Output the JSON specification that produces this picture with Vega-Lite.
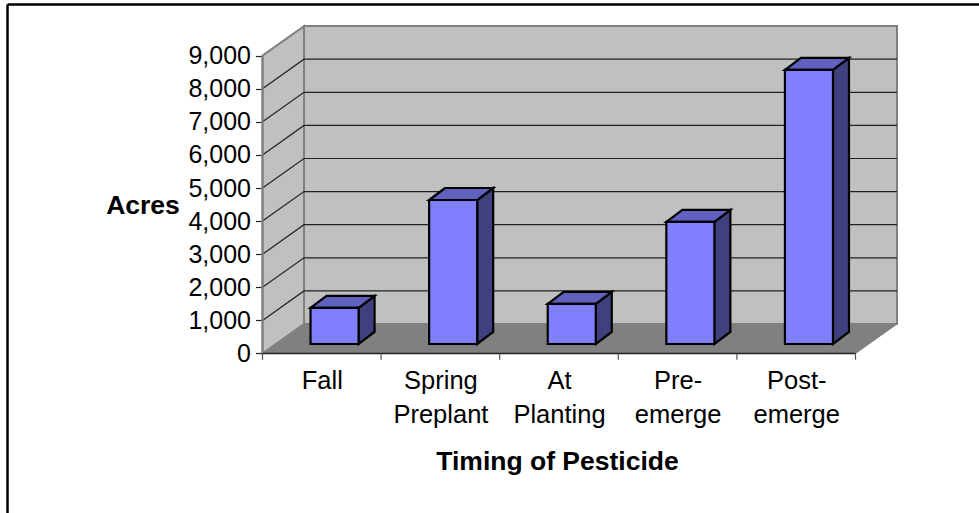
{
"$schema":"https://vega.github.io/schema/vega-lite/v6.json",
"width":979,"height":513,"padding":0,"autosize":{"type":"none"},
"background":"white",
"config":{"view":{"stroke":null},"font":"Liberation Sans"},
"resolve":{"axis":{"x":"independent","y":"independent"}},
"datasets":{
"bars":[{"timing":"Fall","slot":0,"acres":1090},{"timing":"Spring Preplant","slot":1,"acres":4350},{"timing":"At Planting","slot":2,"acres":1210},{"timing":"Pre-emerge","slot":3,"acres":3690},{"timing":"Post-emerge","slot":4,"acres":8280}],
"levels":[{"acres":1000},{"acres":2000},{"acres":3000},{"acres":4000},{"acres":5000},{"acres":6000},{"acres":7000},{"acres":8000}],
"slots":[{"slot":0},{"slot":1},{"slot":2},{"slot":3},{"slot":4},{"slot":5}],
"depth":[{"d":0},{"d":1}]
},
"layer":[
{"data":{"name":"depth"},"mark":{"type":"area","orient":"vertical","fill":"#C0C0C0","stroke":"#808080","strokeWidth":2},
 "transform":[{"calculate":"datum.d*0.35","as":"x"},{"calculate":"datum.d*891","as":"y0"},{"calculate":"9000+datum.d*891","as":"y1"}],
 "encoding":{"x":{"field":"x","type":"quantitative","scale":{"domain":[-2.2133,6.0413],"nice":false,"zero":false},"axis":null},
 "y":{"field":"y1","type":"quantitative","scale":{"domain":[-4819,10680],"nice":false,"zero":false},"axis":{"orient":"left","offset":-262.5,"values":[0,1000,2000,3000,4000,5000,6000,7000,8000,9000],"format":",d","domain":false,"grid":false,"tickColor":"#222","tickSize":7,"tickWidth":1.2,"labelFontSize":25,"labelColor":"#000","labelPadding":5,"labelOverlap":false,"labelBound":false,"title":"Acres","titleAngle":0,"titleFontSize":26.5,"titleFontWeight":"bold","titleColor":"#000","titleX":-120,"titleY":205,"titleAlign":"center","titleBaseline":"middle"}},
 "y2":{"field":"y0"}}},
{"data":{"values":[{"x0":0.35,"x1":5.35,"y0":891,"y1":9891}]},"mark":{"type":"rect","fill":"#C0C0C0","stroke":"#808080","strokeWidth":2},
 "encoding":{"x":{"field":"x0","type":"quantitative","axis":null},"x2":{"field":"x1"},"y":{"field":"y0","type":"quantitative","axis":null},"y2":{"field":"y1"}}},
{"data":{"name":"depth"},"mark":{"type":"area","orient":"horizontal","fill":"#808080","stroke":"#808080","strokeWidth":1},
 "transform":[{"calculate":"datum.d*891","as":"y"},{"calculate":"datum.d*0.35","as":"x0"},{"calculate":"5+datum.d*0.35","as":"x1"}],
 "encoding":{"y":{"field":"y","type":"quantitative","axis":null},"x":{"field":"x0","type":"quantitative","axis":null},"x2":{"field":"x1"}}},
{"data":{"name":"levels"},"mark":{"type":"line","color":"#222","strokeWidth":1.2},
 "transform":[{"calculate":"[0,1,2]","as":"step"},{"flatten":["step"]},{"calculate":"datum.step==0?0:datum.step==1?0.35:5.35","as":"x"},{"calculate":"datum.acres+(datum.step==0?0:891)","as":"y"}],
 "encoding":{"x":{"field":"x","type":"quantitative","axis":null},"y":{"field":"y","type":"quantitative","axis":null},"detail":{"field":"acres"},"order":{"field":"step"}}},
{"data":{"values":[{"x":0,"y0":0,"y1":9000}]},"mark":{"type":"rule","color":"#808080","strokeWidth":2},
 "encoding":{"x":{"field":"x","type":"quantitative","axis":null},"y":{"field":"y0","type":"quantitative","axis":null},"y2":{"field":"y1"}}},
{"data":{"values":[{"x0":0,"x1":5,"y":0}]},"mark":{"type":"rule","color":"#222","strokeWidth":1.5},
 "encoding":{"x":{"field":"x0","type":"quantitative","axis":null},"x2":{"field":"x1"},"y":{"field":"y","type":"quantitative","axis":null}}},
{"data":{"name":"slots"},"mark":{"type":"rule","color":"#555","strokeWidth":1.2},
 "transform":[{"calculate":"0","as":"y0"},{"calculate":"-190","as":"y1"}],
 "encoding":{"x":{"field":"slot","type":"quantitative","axis":{"orient":"bottom","offset":-159.5,"values":[0.5,1.5,2.5,3.5,4.5],"domain":false,"ticks":false,"grid":false,
   "labelExpr":"datum.value==0.5?['Fall']:datum.value==1.5?['Spring','Preplant']:datum.value==2.5?['At','Planting']:datum.value==3.5?['Pre-','emerge']:['Post-','emerge']",
   "labelFontSize":25.5,"labelColor":"#000","labelPadding":15,"labelLineHeight":34,"labelOverlap":false,"labelBound":false,"labelFlush":false,"labelBaseline":"top",
   "title":"Timing of Pesticide","titleFontSize":26.5,"titleFontWeight":"bold","titleColor":"#000","titleX":557,"titleY":107.5,"titleAlign":"center","titleBaseline":"middle"}},
  "y":{"field":"y0","type":"quantitative","axis":null},"y2":{"field":"y1"}}},
{"data":{"name":"bars"},"mark":{"type":"area","orient":"vertical","fill":"#40407F","stroke":"#000","strokeWidth":2.2,"strokeJoin":"miter"},
 "transform":[{"calculate":"[0,1]","as":"d"},{"flatten":["d"]},{"calculate":"datum.slot+0.405+0.405+datum.d*0.135","as":"x"},{"calculate":"287+datum.acres+datum.d*363","as":"y"},{"calculate":"287+datum.d*363","as":"y0"}],
 "encoding":{"x":{"field":"x","type":"quantitative","axis":null},"y":{"field":"y","type":"quantitative","axis":null},"y2":{"field":"y0"},"detail":{"field":"timing"}}},
{"data":{"name":"bars"},"mark":{"type":"area","orient":"horizontal","fill":"#6060BF","stroke":"#000","strokeWidth":2.2,"strokeJoin":"miter"},
 "transform":[{"calculate":"[0,1]","as":"d"},{"flatten":["d"]},{"calculate":"datum.slot+0.405+datum.d*0.135","as":"x0"},{"calculate":"datum.slot+0.405+0.405+datum.d*0.135","as":"x1"},{"calculate":"287+datum.acres+datum.d*363","as":"y"}],
 "encoding":{"y":{"field":"y","type":"quantitative","axis":null},"x":{"field":"x0","type":"quantitative","axis":null},"x2":{"field":"x1"},"detail":{"field":"timing"}}},
{"data":{"name":"bars"},"mark":{"type":"rect","fill":"#8080FF","stroke":"#000","strokeWidth":2.2},
 "transform":[{"calculate":"datum.slot+0.405","as":"x0"},{"calculate":"datum.slot+0.405+0.405","as":"x1"},{"calculate":"287","as":"y0"},{"calculate":"287+datum.acres","as":"y1"}],
 "encoding":{"x":{"field":"x0","type":"quantitative","axis":null},"x2":{"field":"x1"},"y":{"field":"y0","type":"quantitative","axis":null},"y2":{"field":"y1"}}},
{"data":{"values":[{"x0":-2.15,"x1":6.0413,"y":10544,"y0":-4819}]},"mark":{"type":"rule","color":"#000","strokeWidth":2.5},
 "encoding":{"x":{"field":"x0","type":"quantitative","axis":null},"x2":{"field":"x1"},"y":{"field":"y","type":"quantitative","axis":null}}},
{"data":{"values":[{"x0":-2.15,"y1":10544,"y0":-4819}]},"mark":{"type":"rule","color":"#000","strokeWidth":2.5},
 "encoding":{"x":{"field":"x0","type":"quantitative","axis":null},"y":{"field":"y0","type":"quantitative","axis":null},"y2":{"field":"y1"}}}
]
}
